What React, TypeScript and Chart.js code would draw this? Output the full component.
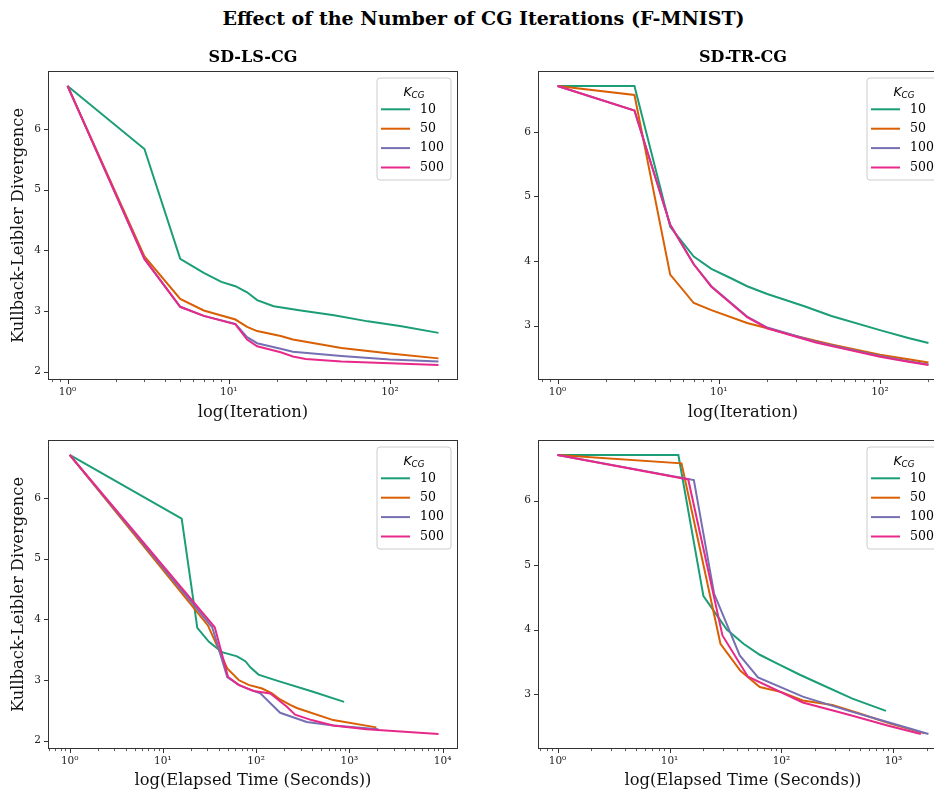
import React, { useEffect, useRef } from 'react';
import { Chart, registerables } from 'chart.js';

Chart.register(...registerables);

const SERIF = "'DejaVu Serif', serif";
const SANS = "'DejaVu Sans', sans-serif";

const suptitle = 'Effect of the Number of CG Iterations (F-MNIST)';
const kcgLabels = ['10', '50', '100', '500'];
const kcgColors = ['#1b9e77', '#d95f02', '#7570b3', '#e7298a'];
const yTickValues = [2, 3, 4, 5, 6];

// ---- SD-LS-CG vs iteration ----
const lsIterX10 = [1, 3, 5, 7, 9, 11, 13, 15, 19, 28, 45, 73, 118, 200];
const lsIterY10 = [6.71, 5.67, 3.86, 3.63, 3.48, 3.41, 3.31, 3.18, 3.08, 3.01, 2.93, 2.83, 2.75, 2.64];
const lsIterX50 = [1, 3, 5, 7, 11, 13, 15, 21, 25, 50, 100, 200];
const lsIterY50 = [6.71, 3.9, 3.2, 3.01, 2.86, 2.74, 2.67, 2.59, 2.53, 2.39, 2.3, 2.22];
const lsIterX100 = [1, 3, 5, 7, 11, 13, 15, 21, 25, 50, 100, 200];
const lsIterY100 = [6.71, 3.86, 3.07, 2.92, 2.79, 2.57, 2.47, 2.38, 2.33, 2.26, 2.2, 2.17];
const lsIterX500 = [1, 3, 5, 7, 11, 13, 15, 21, 25, 30, 50, 100, 200];
const lsIterY500 = [6.71, 3.86, 3.07, 2.92, 2.78, 2.53, 2.42, 2.32, 2.25, 2.21, 2.17, 2.14, 2.11];

// ---- SD-TR-CG vs iteration ----
const trIterX10 = [1, 3, 5, 7, 9, 12, 15, 20, 34, 50, 100, 150, 200];
const trIterY10 = [6.71, 6.71, 4.53, 4.07, 3.88, 3.73, 3.61, 3.49, 3.3, 3.15, 2.93, 2.81, 2.73];
const trIterX50 = [1, 3, 5, 7, 9, 15, 20, 30, 50, 100, 150, 200];
const trIterY50 = [6.71, 6.57, 3.79, 3.35, 3.24, 3.04, 2.96, 2.84, 2.71, 2.55, 2.48, 2.43];
const trIterX100 = [1, 3, 5, 7, 9, 15, 20, 40, 60, 100, 150, 200];
const trIterY100 = [6.71, 6.33, 4.56, 3.95, 3.61, 3.14, 2.97, 2.75, 2.65, 2.53, 2.45, 2.4];
const trIterX500 = [1, 3, 5, 7, 9, 15, 20, 40, 60, 100, 150, 200];
const trIterY500 = [6.71, 6.33, 4.56, 3.95, 3.6, 3.13, 2.96, 2.74, 2.64, 2.52, 2.44, 2.39];

// ---- SD-LS-CG vs elapsed time ----
const lsTimeX10 = [1, 15.9, 23.4, 31.2, 43, 62.5, 76.7, 86.7, 106, 167, 400, 879];
const lsTimeY10 = [6.71, 5.66, 3.86, 3.63, 3.46, 3.39, 3.31, 3.21, 3.09, 2.99, 2.81, 2.64];
const lsTimeX50 = [1, 30.4, 49, 65, 83, 116, 148, 181, 232, 273, 671, 1950];
const lsTimeY50 = [6.71, 3.9, 3.19, 3.0, 2.92, 2.86, 2.78, 2.68, 2.59, 2.54, 2.34, 2.22];
const lsTimeX100 = [1, 33.8, 49, 65, 83, 111, 181, 349, 675, 2050];
const lsTimeY100 = [6.71, 3.87, 3.05, 2.92, 2.85, 2.78, 2.46, 2.31, 2.25, 2.19];
const lsTimeX500 = [1, 36, 50, 65, 94, 142, 214, 262, 394, 671, 1524, 9060];
const lsTimeY500 = [6.71, 3.87, 3.05, 2.92, 2.82, 2.78, 2.56, 2.43, 2.34, 2.25, 2.19, 2.11];

// ---- SD-TR-CG vs elapsed time ----
const trTimeX10 = [1, 12, 20.1, 32.5, 45.8, 64, 90, 146, 219, 430, 857];
const trTimeY10 = [6.71, 6.71, 4.52, 4.0, 3.78, 3.61, 3.48, 3.3, 3.16, 2.93, 2.74];
const trTimeX50 = [1, 12.8, 28.5, 43, 64, 100, 155, 285, 475, 950, 1900];
const trTimeY50 = [6.71, 6.58, 3.78, 3.36, 3.11, 3.03, 2.9, 2.83, 2.71, 2.54, 2.39];
const trTimeX100 = [1, 16.5, 25, 42.4, 61.7, 155, 400, 1000, 2055];
const trTimeY100 = [6.71, 6.32, 4.56, 3.6, 3.26, 2.96, 2.74, 2.54, 2.38];
const trTimeX500 = [1, 14.7, 29.7, 50.2, 155, 400, 900, 1757];
const trTimeY500 = [6.71, 6.33, 3.91, 3.27, 2.87, 2.68, 2.51, 2.38];

type PanelSpec = {
  title: string;
  xTitle: string;
  yTitle: string;
  xs: number[][];
  ys: number[][];
  left: number;
  top: number;
  w: number;
  h: number;
  padTop: number;
  padRight: number;
  yAxisW: number;
  xAxisH: number;
  xTitlePadBottom: number;
  titleY: number;
};

const panels: PanelSpec[] = [
  {
    title: 'SD-LS-CG', xTitle: 'log(Iteration)', yTitle: 'Kullback-Leibler Divergence',
    xs: [lsIterX10, lsIterX50, lsIterX100, lsIterX500], ys: [lsIterY10, lsIterY50, lsIterY100, lsIterY500],
    left: 0, top: 40, w: 470, h: 390, padTop: 32, padRight: 13, yAxisW: 49, xAxisH: 51, xTitlePadBottom: 7.2, titleY: 18,
  },
  {
    title: 'SD-TR-CG', xTitle: 'log(Iteration)', yTitle: '',
    xs: [trIterX10, trIterX50, trIterX100, trIterX500], ys: [trIterY10, trIterY50, trIterY100, trIterY500],
    left: 470, top: 40, w: 497, h: 390, padTop: 32, padRight: 20, yAxisW: 69, xAxisH: 51, xTitlePadBottom: 7.2, titleY: 18,
  },
  {
    title: '', xTitle: 'log(Elapsed Time (Seconds))', yTitle: 'Kullback-Leibler Divergence',
    xs: [lsTimeX10, lsTimeX50, lsTimeX100, lsTimeX500], ys: [lsTimeY10, lsTimeY50, lsTimeY100, lsTimeY500],
    left: 0, top: 400, w: 470, h: 391, padTop: 41, padRight: 13, yAxisW: 49, xAxisH: 43, xTitlePadBottom: 0, titleY: 0,
  },
  {
    title: '', xTitle: 'log(Elapsed Time (Seconds))', yTitle: '',
    xs: [trTimeX10, trTimeX50, trTimeX100, trTimeX500], ys: [trTimeY10, trTimeY50, trTimeY100, trTimeY500],
    left: 470, top: 400, w: 497, h: 391, padTop: 41, padRight: 20, yAxisW: 69, xAxisH: 43, xTitlePadBottom: 0, titleY: 0,
  },
];

const SUP: Record<string, string> = { '0': '⁰', '1': '¹', '2': '²', '3': '³', '4': '⁴', '5': '⁵', '6': '⁶', '7': '⁷', '8': '⁸', '9': '⁹', '-': '⁻' };
const toSup = (n: number) => String(n).split('').map((c) => SUP[c] || c).join('');
const isPow10 = (v: number) => Math.abs(Math.log10(v) - Math.round(Math.log10(v))) < 1e-9;

function logTicks(min: number, max: number) {
  const out: { value: number }[] = [];
  const e0 = Math.floor(Math.log10(min));
  const e1 = Math.ceil(Math.log10(max));
  for (let e = e0; e <= e1; e++) {
    for (let k = 1; k <= 9; k++) {
      const v = parseFloat((k * Math.pow(10, e)).toPrecision(12));
      if (v >= min && v <= max) out.push({ value: v });
    }
  }
  return out;
}

function makeDecorPlugin(spec: PanelSpec) {
  return {
    id: 'decor',
    afterDraw(chart: any) {
      const { ctx, chartArea: a, scales } = chart;
      ctx.save();
      // spines
      ctx.strokeStyle = '#333333';
      ctx.lineWidth = 1;
      const L = Math.round(a.left) - 0.5;
      const R = Math.round(a.right) + 0.5;
      const T = Math.round(a.top) - 0.5;
      const B = Math.round(a.bottom) + 0.5;
      ctx.strokeRect(L, T, R - L, B - T);
      // x ticks
      scales.x.ticks.forEach((t: any) => {
        const px = Math.round(scales.x.getPixelForValue(t.value)) + 0.5;
        const major = isPow10(t.value);
        ctx.lineWidth = major ? 1 : 0.8;
        ctx.beginPath();
        ctx.moveTo(px, B);
        ctx.lineTo(px, B + (major ? 4.5 : 2.6));
        ctx.stroke();
      });
      // y ticks
      ctx.lineWidth = 1;
      scales.y.ticks.forEach((t: any) => {
        const py = Math.round(scales.y.getPixelForValue(t.value)) + 0.5;
        ctx.beginPath();
        ctx.moveTo(L, py);
        ctx.lineTo(L - 4.5, py);
        ctx.stroke();
      });
      // subplot title
      if (spec.title) {
        ctx.fillStyle = '#000';
        ctx.font = `bold 16px ${SERIF}`;
        ctx.textAlign = 'center';
        ctx.textBaseline = 'middle';
        ctx.fillText(spec.title, (a.left + a.right) / 2, spec.titleY);
      }
      // legend
      const boxW = 74;
      const boxH = 102;
      const x0 = a.right - 6 - boxW;
      const y0 = a.top + 6;
      const r = 3;
      ctx.beginPath();
      ctx.moveTo(x0 + r, y0);
      ctx.lineTo(x0 + boxW - r, y0);
      ctx.quadraticCurveTo(x0 + boxW, y0, x0 + boxW, y0 + r);
      ctx.lineTo(x0 + boxW, y0 + boxH - r);
      ctx.quadraticCurveTo(x0 + boxW, y0 + boxH, x0 + boxW - r, y0 + boxH);
      ctx.lineTo(x0 + r, y0 + boxH);
      ctx.quadraticCurveTo(x0, y0 + boxH, x0, y0 + boxH - r);
      ctx.lineTo(x0, y0 + r);
      ctx.quadraticCurveTo(x0, y0, x0 + r, y0);
      ctx.closePath();
      ctx.fillStyle = 'rgba(255,255,255,0.8)';
      ctx.fill();
      ctx.strokeStyle = '#cccccc';
      ctx.lineWidth = 1;
      ctx.stroke();
      // legend title K_CG
      ctx.fillStyle = '#000';
      ctx.textAlign = 'left';
      ctx.textBaseline = 'alphabetic';
      ctx.font = `italic 12.5px ${SANS}`;
      const kw = ctx.measureText('K').width;
      ctx.font = `italic 8.8px ${SANS}`;
      const sw = ctx.measureText('CG').width;
      const sx = x0 + boxW / 2 - (kw + sw) / 2;
      ctx.font = `italic 12.5px ${SANS}`;
      ctx.fillText('K', sx, y0 + 17.7);
      ctx.font = `italic 8.8px ${SANS}`;
      ctx.fillText('CG', sx + kw, y0 + 19.6);
      // entries
      chart.data.datasets.forEach((ds: any, i: number) => {
        const yy = y0 + 31.3 + i * 19.4;
        ctx.strokeStyle = ds.borderColor;
        ctx.lineWidth = 2;
        ctx.beginPath();
        ctx.moveTo(x0 + 4, yy);
        ctx.lineTo(x0 + 33, yy);
        ctx.stroke();
        ctx.fillStyle = '#000';
        ctx.font = `12.5px ${SERIF}`;
        ctx.textBaseline = 'middle';
        ctx.fillText(ds.label, x0 + 43, yy);
      });
      ctx.restore();
    },
  };
}

function buildConfig(spec: PanelSpec): any {
  const allX = spec.xs.flat();
  const allY = spec.ys.flat();
  const lx0 = Math.log10(Math.min(...allX));
  const lx1 = Math.log10(Math.max(...allX));
  const mx = (lx1 - lx0) * 0.05;
  const y0 = Math.min(...allY);
  const y1 = Math.max(...allY);
  const my = (y1 - y0) * 0.05;

  const datasets = spec.xs.map((xs, i) => ({
    label: kcgLabels[i],
    data: xs.map((x, j) => ({ x, y: spec.ys[i][j] })),
    borderColor: kcgColors[i],
    backgroundColor: kcgColors[i],
    borderWidth: 2,
    pointRadius: 0,
    pointHoverRadius: 0,
    tension: 0,
    fill: false,
    order: 3 - i,
  }));

  const gridOpts = {
    display: true,
    drawOnChartArea: false,
    drawTicks: true,
    tickLength: 5,
    color: 'transparent',
    tickColor: 'transparent',
  };

  return {
    type: 'line',
    data: { datasets },
    options: {
      responsive: false,
      animation: false,
      devicePixelRatio: 1,
      layout: { padding: { top: spec.padTop, right: spec.padRight, left: 0, bottom: 0 } },
      plugins: { legend: { display: false }, tooltip: { enabled: false }, title: { display: false } },
      events: [],
      scales: {
        x: {
          type: 'logarithmic',
          min: Math.pow(10, lx0 - mx),
          max: Math.pow(10, lx1 + mx),
          afterBuildTicks: (scale: any) => {
            scale.ticks = logTicks(scale.min, scale.max);
          },
          afterFit: (scale: any) => {
            scale.height = spec.xAxisH;
          },
          ticks: {
            autoSkip: false,
            maxRotation: 0,
            minRotation: 0,
            padding: 2,
            color: '#222',
            font: { family: SERIF, size: 10.5 },
            callback: (v: any) => (isPow10(Number(v)) ? '10' + toSup(Math.round(Math.log10(Number(v)))) : ''),
          },
          grid: gridOpts,
          border: { display: false },
          title: {
            display: true,
            text: spec.xTitle,
            color: '#111',
            font: { family: SERIF, size: 16.3 },
            padding: { top: 0, bottom: spec.xTitlePadBottom },
          },
        },
        y: {
          type: 'linear',
          min: y0 - my,
          max: y1 + my,
          afterBuildTicks: (scale: any) => {
            scale.ticks = yTickValues.filter((v) => v >= scale.min && v <= scale.max).map((v) => ({ value: v }));
          },
          afterFit: (scale: any) => {
            scale.width = spec.yAxisW;
          },
          ticks: {
            padding: 3,
            color: '#222',
            font: { family: SERIF, size: 10.5 },
            callback: (v: any) => String(v),
          },
          grid: gridOpts,
          border: { display: false },
          title: {
            display: !!spec.yTitle,
            text: spec.yTitle,
            color: '#111',
            font: { family: SERIF, size: 16.3 },
            padding: { top: 8.7, bottom: 0 },
          },
        },
      },
    },
    plugins: [makeDecorPlugin(spec)],
  };
}

function Panel({ spec }: { spec: PanelSpec }) {
  const ref = useRef<HTMLCanvasElement>(null);
  useEffect(() => {
    const chart = new Chart(ref.current as HTMLCanvasElement, buildConfig(spec));
    return () => chart.destroy();
  }, [spec]);
  return (
    <canvas
      ref={ref}
      width={spec.w}
      height={spec.h}
      style={{ position: 'absolute', left: spec.left, top: spec.top, width: spec.w, height: spec.h }}
    />
  );
}

export default function App() {
  return (
    <div
      style={{
        position: 'absolute',
        left: 0,
        top: 0,
        width: 934,
        height: 791,
        overflow: 'hidden',
        background: '#fff',
      }}
    >
      <div
        style={{
          position: 'absolute',
          left: 0,
          top: 6,
          width: 967,
          textAlign: 'center',
          fontFamily: SERIF,
          fontWeight: 'bold',
          fontSize: 19,
          lineHeight: '24px',
          color: '#000',
          whiteSpace: 'nowrap',
        }}
      >
        {suptitle}
      </div>
      {panels.map((p, i) => (
        <Panel key={i} spec={p} />
      ))}
    </div>
  );
}
